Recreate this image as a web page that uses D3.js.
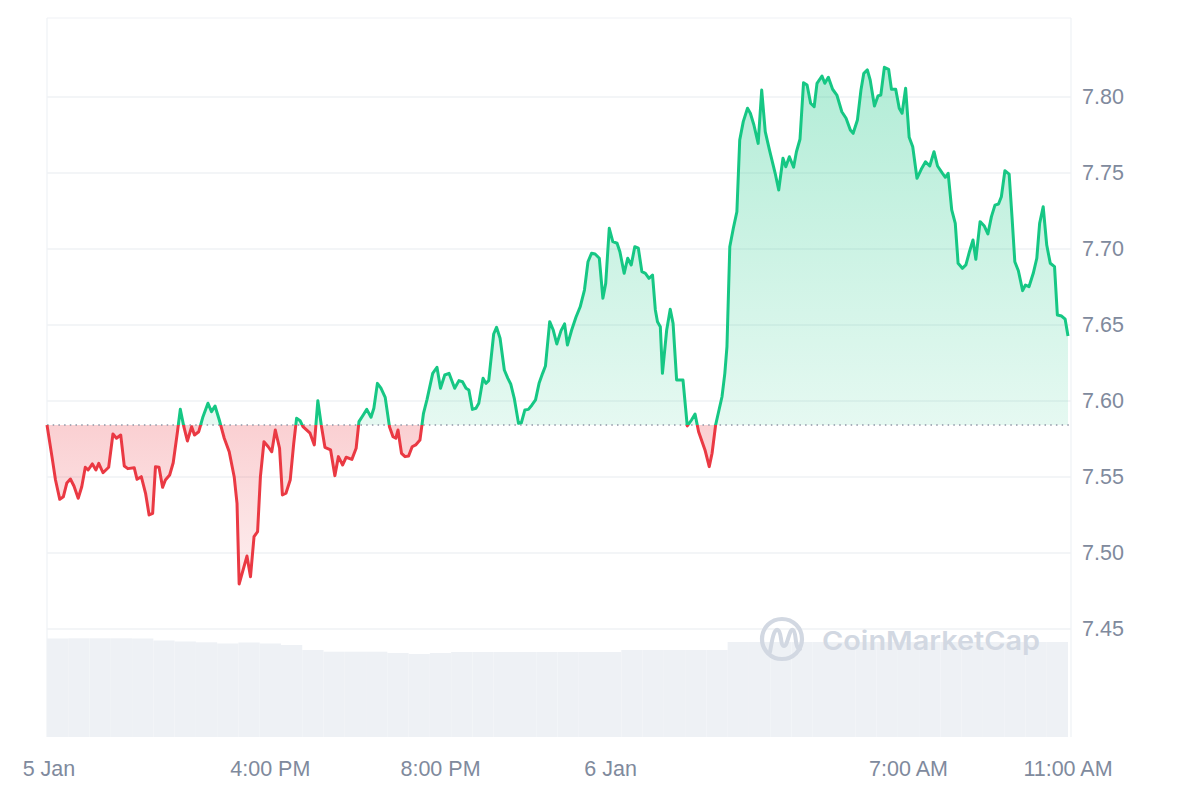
<!DOCTYPE html>
<html><head><meta charset="utf-8">
<script src="https://cdn.jsdelivr.net/npm/d3@7"></script>
<style>html,body{margin:0;padding:0;background:#fff;} svg{display:block;}</style>
</head><body><div id="chart"></div>
<script>
// ---- DATA ----
const startTime = new Date(2025, 0, 5, 10, 45);   // window start (24h chart)
const minutes = [0,7,12,18,23,28,33,38,44,49,54,58,64,69,73,79,87,93,98,104,109,114,123,127,133,139,144,149,153,158,163,167,173,178,184,188,193,198,204,208,214,220,227,232,237,243,250,257,264,268,271,282,287,
292,297,301,306,312,317,322,328,332,337,343,348,352,357,361,371,377,382,387,392,400,406,411,417,422,430,436,440,446,451,457,461,466,471,477,483,488,492,495,500,505,510,515,520,526,531,536,544,550,555,
561,567,575,581,586,591,595,600,605,609,615,619,623,630,634,639,645,650,654,659,665,669,674,679,684,689,694,699,703,709,714,719,725,730,734,740,746,752,758,763,768,773,779,784,788,793,798,804,808,814,
819,824,829,834,839,844,849,854,858,861,865,868,874,879,883,888,897,903,909,914,919,928,934,938,943,952,956,959,963,968,973,977,982,988,992,997,1003,1008,1013,1019,1027,1032,1038,1042,1047,1053,1057,1062,1067,1072,
1077,1082,1086,1093,1097,1102,1108,1114,1121,1127,1133,1137,1143,1148,1152,1157,1161,1167,1172,1176,1181,1187,1191,1197,1202,1206,1211,1216,1221,1227,1233,1239,1245,1251,1256,1263,1267,1271,1276,1281,
1285,1291,1296,1301,1306,1310,1316,1322,1327,1332,1337,1342,1346,1351,1357,1361,1365,1370,1376,1380,1385,1391,1396,1400,1405,1410,1415,1421,1425,1431,1436,1440];
const prices = [7.5842,7.5634,7.5480,7.5353,7.5370,7.5461,7.5487,7.5441,7.5360,7.5436,7.5564,7.5546,7.5586,7.5546,7.5590,7.5528,7.5564,7.5783,7.5755,7.5776,7.5572,7.5555,7.5561,7.5485,7.5502,7.5393,7.5250,7.5261,7.5568,7.5564,
7.5432,7.5480,7.5513,7.5594,7.5798,7.5945,7.5831,7.5737,7.5831,7.5776,7.5798,7.5897,7.5985,7.5930,7.5967,7.5875,7.5755,7.5666,7.5502,7.5327,7.4796,7.4980,7.4844,
7.5107,7.5140,7.5502,7.5732,7.5699,7.5666,7.5809,7.5689,7.5382,7.5393,7.5480,7.5722,7.5886,7.5870,7.5831,7.5788,7.5711,7.6002,7.5836,7.5695,7.5678,7.5509,7.5634,7.5579,7.5630,7.5616,7.5689,7.5864,7.5908,
7.5945,7.5893,7.5952,7.6116,7.6084,7.6024,7.5831,7.5765,7.5755,7.5809,7.5656,7.5634,7.5638,7.5699,7.5711,7.5743,7.5919,7.6011,7.6182,7.6222,7.6084,7.6171,7.6182,
7.6084,7.6134,7.6127,7.6084,7.6072,7.5945,7.5952,7.5985,7.6149,7.6116,7.6134,7.6441,7.6485,7.6413,7.6204,7.6149,7.6112,7.6018,7.5853,7.5857,7.5941,7.5945,7.5974,7.6007,7.6116,7.6182,7.6230,7.6522,7.6467,7.6375,
7.6463,7.6507,7.6368,7.6467,7.6551,7.6620,7.6730,7.6916,7.6972,7.6967,7.6939,7.6676,7.6774,7.7136,7.7048,7.7038,7.6982,7.6840,7.6939,7.6895,7.7015,7.7005,7.6851,7.6840,7.6807,7.6829,7.6599,7.6522,7.6489,7.6182,
7.6467,7.6603,7.6511,7.6138,7.6138,7.5836,7.5875,7.5914,7.5798,7.5678,7.5568,7.5656,7.5842,7.6028,7.6182,7.6357,7.7015,7.7136,7.7245,7.7717,7.7838,7.7926,7.7893,7.7816,7.7695,7.8046,7.7772,7.7651,7.7498,7.7388,
7.7597,7.7541,7.7607,7.7538,7.7640,7.7722,7.8094,7.8079,7.7959,7.7936,7.8090,7.8138,7.8090,7.8130,7.8051,7.8013,7.7903,7.7860,7.7783,7.7761,7.7849,7.8046,7.8156,7.8178,7.8112,7.7941,7.8007,7.8013,7.8195,7.8182,
7.8051,7.8051,7.7926,7.7893,7.8057,7.7735,7.7673,7.7465,7.7524,7.7574,7.7546,7.7640,7.7546,7.7498,7.7472,7.7498,7.7257,7.7169,7.6906,7.6873,7.6895,7.6982,7.7059,7.6932,7.7180,7.7151,7.7099,7.7213,7.7289,7.7296,
7.7344,7.7515,7.7493,7.7213,7.6916,7.6857,7.6726,7.6763,7.6752,7.6840,7.6939,7.7169,7.7278,7.7026,7.6906,7.6884,7.6566,7.6559,7.6538,7.6428];
// volume per 30-minute slot (relative units)
const volumeSlotMinutes = 30;
const volumes = [98.5,98.7,98.7,98.7,98.5,96.5,95.5,94.7,93.5,94.5,93.5,92,87,85.3,85.3,85.3,84,83,84,85,85,85,85,85,85,85,85,87,87,87,87,87,
95,95,95,95,95,95,95,95,95,95,95,95,95,95,95,95];
const yTicks = [7.45, 7.50, 7.55, 7.60, 7.65, 7.70, 7.75, 7.80];
const xTickTimes = [new Date(2025,0,5,0,0), new Date(2025,0,5,16,0), new Date(2025,0,5,20,0), new Date(2025,0,6,0,0), new Date(2025,0,6,7,0), new Date(2025,0,6,11,0)];
const xTickLabels = ["5 Jan", "4:00 PM", "8:00 PM", "6 Jan", "7:00 AM", "11:00 AM"];

// ---- CHART ----
const W = 1200, H = 800;
const P = {left: 47, right: 1071, top: 18, bottom: 737};
const GREEN = "#16c784", RED = "#ea3943", GREY = "#808a9d", GRID = "#eff2f5";
const endTime = d3.timeMinute.offset(startTime, 1440);
const x = d3.scaleTime().domain([startTime, endTime]).range([P.left, 1068]);
const y = d3.scaleLinear().domain([7.45, 7.80]).range([629, 97]);
const yVol = d3.scaleLinear().domain([0, 100]).range([P.bottom, 637]);

const data = minutes.map((m, i) => ({t: d3.timeMinute.offset(startTime, m), p: prices[i]}));
const base = prices[0];
const yb = y(base);

const svg = d3.select("#chart").append("svg").attr("width", W).attr("height", H)
  .style("font-family", "'Liberation Sans', Arial, sans-serif");
const defs = svg.append("defs");

const gG = defs.append("linearGradient").attr("id", "gGreen").attr("gradientUnits", "userSpaceOnUse")
  .attr("x1", 0).attr("x2", 0).attr("y1", y(d3.max(prices))).attr("y2", yb);
gG.append("stop").attr("offset", 0).attr("stop-color", GREEN).attr("stop-opacity", 0.33);
gG.append("stop").attr("offset", 1).attr("stop-color", GREEN).attr("stop-opacity", 0.11);
const gR = defs.append("linearGradient").attr("id", "gRed").attr("gradientUnits", "userSpaceOnUse")
  .attr("x1", 0).attr("x2", 0).attr("y1", yb).attr("y2", y(d3.min(prices)));
gR.append("stop").attr("offset", 0).attr("stop-color", RED).attr("stop-opacity", 0.24);
gR.append("stop").attr("offset", 1).attr("stop-color", RED).attr("stop-opacity", 0.08);

defs.append("clipPath").attr("id", "above").append("rect")
  .attr("x", 0).attr("y", 0).attr("width", W).attr("height", yb);
defs.append("clipPath").attr("id", "below").append("rect")
  .attr("x", 0).attr("y", yb).attr("width", W).attr("height", H - yb);

// frame + grid
const frame = svg.append("g").attr("stroke", GRID).attr("stroke-width", 1.2).attr("fill", "none");
frame.append("line").attr("x1", P.left).attr("x2", P.right).attr("y1", P.top).attr("y2", P.top);
frame.append("line").attr("x1", P.left).attr("x2", P.left).attr("y1", P.top).attr("y2", P.bottom);
frame.append("line").attr("x1", P.right).attr("x2", P.right).attr("y1", P.top).attr("y2", P.bottom);
svg.append("g").selectAll("line").data(yTicks).join("line")
  .attr("x1", P.left).attr("x2", P.right).attr("y1", d => y(d)).attr("y2", d => y(d))
  .attr("stroke", GRID).attr("stroke-width", 1.5);

// volume bars
svg.append("g").selectAll("rect").data(volumes).join("rect")
  .attr("x", (d, i) => x(d3.timeMinute.offset(startTime, i * volumeSlotMinutes)))
  .attr("width", (d, i) => x(d3.timeMinute.offset(startTime, (i + 1) * volumeSlotMinutes)) - x(d3.timeMinute.offset(startTime, i * volumeSlotMinutes)))
  .attr("y", d => yVol(d)).attr("height", d => yVol(0) - yVol(d))
  .attr("fill", "#eef1f5");

// watermark
const wm = svg.append("g");
wm.append("circle").attr("cx", 782).attr("cy", 639).attr("r", 20).attr("fill", "none")
  .attr("stroke", "#d2d8e2").attr("stroke-width", 4.2);
wm.append("path").attr("d", "M770,652 C772,640 774,628 778,630 C782,632 780,646 784,646 C788,646 789,628 793,630 C797,632 794,648 800,649")
  .attr("fill", "none").attr("stroke", "#d2d8e2").attr("stroke-width", 4).attr("stroke-linecap", "round");
wm.append("text").attr("x", 822).attr("y", 650).attr("textLength", 218).attr("lengthAdjust", "spacingAndGlyphs")
  .attr("font-family", "Inter, 'Open Sans', sans-serif").attr("font-weight", 600).attr("font-size", 26)
  .attr("fill", "#d2d8e2").text("CoinMarketCap");

// areas
const area = d3.area().x(d => x(d.t)).y0(yb).y1(d => y(d.p));
svg.append("path").datum(data).attr("d", area).attr("fill", "url(#gGreen)").attr("clip-path", "url(#above)");
svg.append("path").datum(data).attr("d", area).attr("fill", "url(#gRed)").attr("clip-path", "url(#below)");

// baseline
svg.append("line").attr("x1", P.left).attr("x2", P.right).attr("y1", yb).attr("y2", yb)
  .attr("stroke", "#8f96a6").attr("stroke-width", 1.5).attr("stroke-dasharray", "1.5 4.2");

// lines
const line = d3.line().x(d => x(d.t)).y(d => y(d.p));
svg.append("path").datum(data).attr("d", line).attr("fill", "none").attr("stroke", GREEN)
  .attr("stroke-width", 3).attr("stroke-linejoin", "round").attr("clip-path", "url(#above)");
svg.append("path").datum(data).attr("d", line).attr("fill", "none").attr("stroke", RED)
  .attr("stroke-width", 3).attr("stroke-linejoin", "round").attr("clip-path", "url(#below)");

// y axis (right)
const yAxis = svg.append("g").attr("transform", `translate(${P.right},0)`)
  .call(d3.axisRight(y).tickValues(yTicks).tickFormat(d3.format(".2f")).tickSize(0).tickPadding(11));
yAxis.select(".domain").remove();
yAxis.selectAll("text").attr("fill", GREY).attr("font-size", 21.5)
  .attr("font-family", "'Liberation Sans', Arial, sans-serif");

// x labels
svg.append("g").selectAll("text").data(xTickTimes).join("text")
  .attr("x", d => Math.max(49, Math.min(1068, x(d))))
  .attr("y", 768).attr("dy", "0.35em").attr("text-anchor", "middle")
  .attr("fill", GREY).attr("font-size", 21.5)
  .text((d, i) => xTickLabels[i]);
</script>
</body></html>
